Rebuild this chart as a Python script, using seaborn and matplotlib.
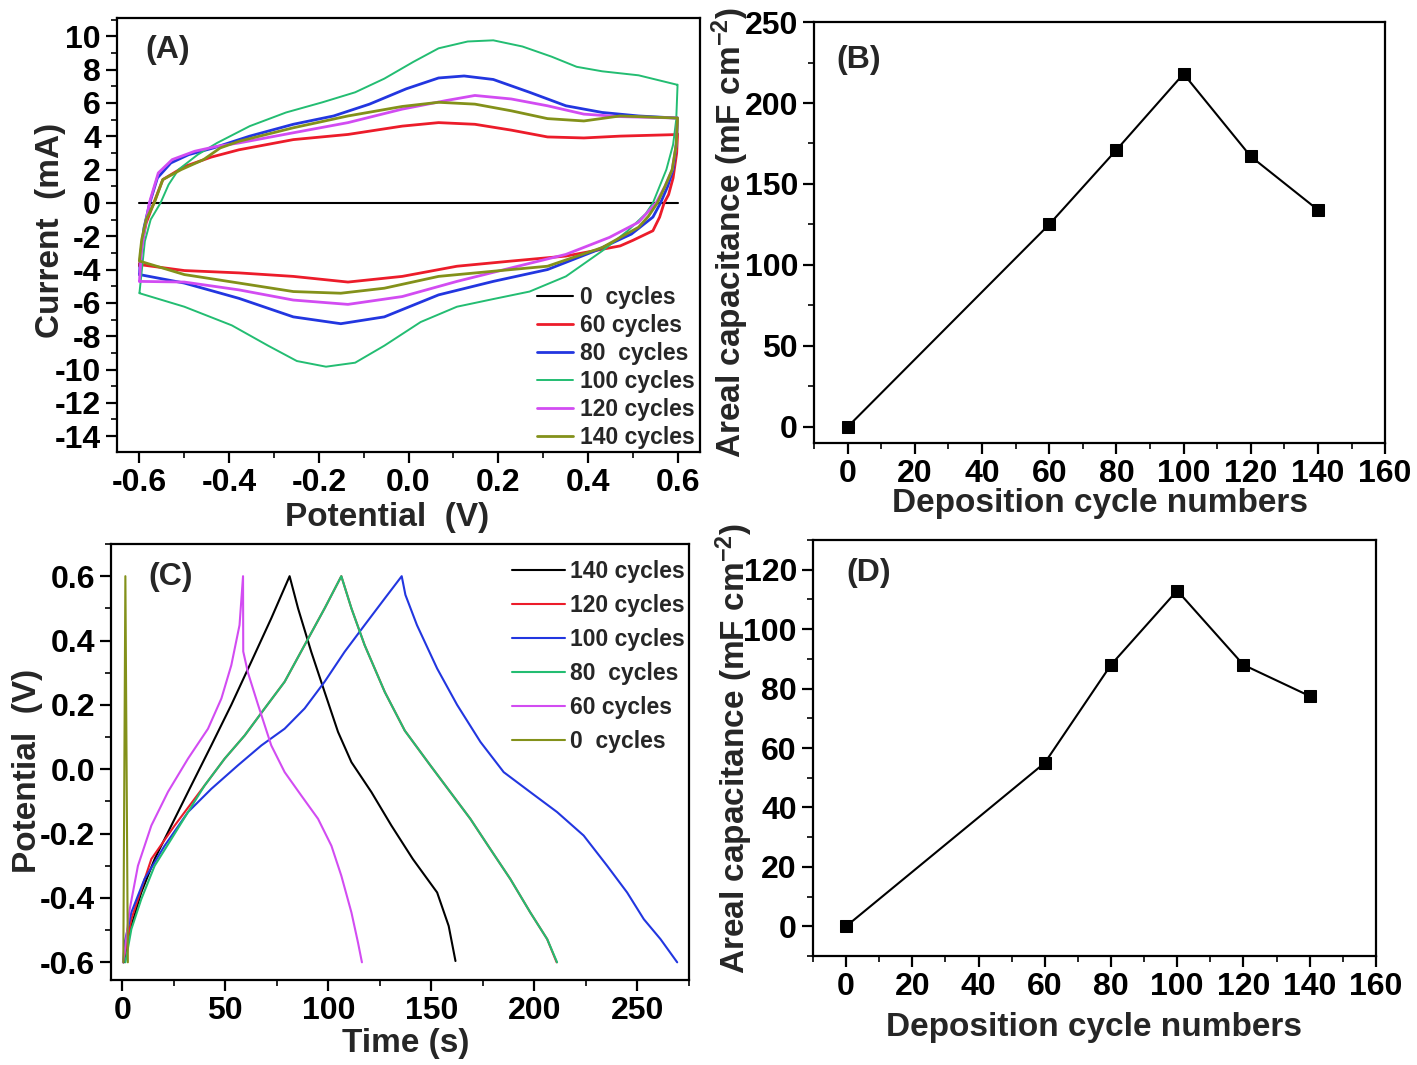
import matplotlib
matplotlib.use("Agg")
import matplotlib.pyplot as plt
from matplotlib import font_manager
from matplotlib.ticker import MultipleLocator
import seaborn as sns

# ---- (A) cyclic voltammetry: anodic branch -0.6 -> 0.6, then cathodic branch back
cv0_v = [-0.6, 0.6]
cv0_i = [0.0, 0.0]

cv60_v = [-0.6, -0.595, -0.585, -0.568, -0.548, -0.5, -0.44, -0.378, -0.257, -0.135, -0.014, 0.067, 0.148,
          0.229, 0.31, 0.391, 0.472, 0.594, 0.6,
          0.598, 0.59, 0.58, 0.57, 0.56, 0.545, 0.5, 0.472, 0.351, 0.229, 0.108, -0.014, -0.135, -0.257,
          -0.378, -0.5, -0.6]
cv60_i = [-3.8, -2.5, -1.2, 0.0, 1.4, 2.18, 2.75, 3.19, 3.80, 4.11, 4.61, 4.82, 4.72, 4.37, 3.96, 3.90,
          4.01, 4.1, 4.15,
          3.0, 1.5, 0.5, 0.0, -0.85, -1.67, -2.25, -2.58, -3.19, -3.49, -3.80, -4.41, -4.75, -4.41, -4.20,
          -4.06, -3.70]

cv80_v = [-0.6, -0.597, -0.59, -0.577, -0.56, -0.53, -0.49, -0.435, -0.354, -0.257, -0.167, -0.087,
          -0.005, 0.067, 0.124, 0.189, 0.27, 0.351, 0.432, 0.513, 0.594, 0.6,
          0.597, 0.59, 0.578, 0.562, 0.545, 0.497, 0.416, 0.31, 0.189, 0.067, -0.054, -0.151, -0.257,
          -0.378, -0.5, -0.6]
cv80_i = [-4.3, -3.0, -1.5, 0.0, 1.5, 2.4, 2.9, 3.3, 4.01, 4.72, 5.22, 5.93, 6.85, 7.50, 7.62, 7.41,
          6.64, 5.83, 5.43, 5.22, 5.1, 5.1,
          3.5, 2.0, 1.0, 0.0, -0.85, -1.87, -2.88, -4.0, -4.71, -5.52, -6.84, -7.25, -6.84, -5.73,
          -4.81, -4.30]

cv100_v = [-0.6, -0.588, -0.575, -0.553, -0.535, -0.513, -0.47, -0.427, -0.354, -0.273, -0.192, -0.119,
           -0.054, 0.011, 0.067, 0.132, 0.189, 0.254, 0.319, 0.375, 0.432, 0.513, 0.598, 0.6,
           0.597, 0.59, 0.575, 0.56, 0.545, 0.529, 0.489, 0.432, 0.351, 0.27, 0.189, 0.108, 0.027,
           -0.054, -0.119, -0.184, -0.249, -0.313, -0.394, -0.5, -0.6]
cv100_i = [-5.4, -2.3, -1.0, 0.0, 1.1, 2.0, 2.9, 3.6, 4.61, 5.43, 6.04, 6.64, 7.46, 8.47, 9.28, 9.69,
           9.76, 9.39, 8.78, 8.17, 7.90, 7.66, 7.1, 7.1,
           5.0, 3.5, 2.0, 1.0, 0.0, -0.65, -1.67, -2.88, -4.41, -5.32, -5.77, -6.23, -7.15, -8.57,
           -9.59, -9.83, -9.49, -8.57, -7.35, -6.23, -5.42]

cv120_v = [-0.6, -0.596, -0.588, -0.578, -0.558, -0.527, -0.477, -0.427, -0.378, -0.257, -0.135, -0.014,
           0.083, 0.148, 0.229, 0.31, 0.391, 0.472, 0.594, 0.6,
           0.597, 0.588, 0.572, 0.552, 0.513, 0.448, 0.351, 0.229, 0.108, -0.014, -0.135, -0.257,
           -0.378, -0.5, -0.6]
cv120_i = [-4.7, -3.0, -1.5, 0.0, 1.8, 2.6, 3.1, 3.4, 3.6, 4.21, 4.82, 5.63, 6.14, 6.45, 6.24, 5.83,
           5.33, 5.18, 5.1, 5.1,
           3.5, 2.0, 1.0, 0.0, -1.16, -2.07, -3.09, -3.90, -4.71, -5.62, -6.09, -5.83, -5.22, -4.75,
           -4.71]

cv140_v = [-0.6, -0.595, -0.585, -0.567, -0.548, -0.507, -0.457, -0.42, -0.378, -0.257, -0.135, -0.014,
           0.067, 0.148, 0.229, 0.31, 0.391, 0.472, 0.594, 0.6,
           0.597, 0.588, 0.572, 0.555, 0.535, 0.513, 0.432, 0.31, 0.189, 0.067, -0.054, -0.151, -0.257,
           -0.378, -0.5, -0.6]
cv140_i = [-3.4, -2.2, -1.0, 0.0, 1.4, 2.0, 2.6, 3.3, 3.7, 4.51, 5.22, 5.79, 6.04, 5.93, 5.53, 5.06,
           4.92, 5.22, 5.1, 5.1,
           3.5, 2.0, 1.0, 0.0, -0.8, -1.46, -2.68, -3.80, -4.10, -4.41, -5.12, -5.42, -5.32, -4.81,
           -4.30, -3.49]

# ---- (B) and (D) areal capacitance vs deposition cycles
cycles = [0, 60, 80, 100, 120, 140]
cap_b = [0, 125, 171, 218, 167, 134]
cap_d = [0, 55, 88, 113, 88, 77.5]

# ---- (C) galvanostatic charge/discharge
gcd0_t = [0.5, 1.5, 2.7]
gcd0_v = [-0.6, 0.6, -0.6]

gcd60_t = [0.3, 1.1, 3.6, 7.6, 14.1, 22.2, 31.9, 41.6, 48.1, 52.9, 56.9, 58.6,
           58.7, 61.0, 65.9, 72.3, 78.8, 86.9, 95.0, 101.5, 106.3, 111.2, 114.4, 116.3]
gcd60_v = [-0.6, -0.57, -0.435, -0.30, -0.175, -0.07, 0.033, 0.126, 0.22, 0.323, 0.448, 0.6,
           0.366, 0.30, 0.20, 0.074, -0.009, -0.082, -0.154, -0.238, -0.331, -0.445, -0.539, -0.6]

gcd80_t = [1.5, 4.4, 9.2, 15.7, 23.8, 31.9, 40.0, 49.7, 59.4, 69.1, 78.8, 88.5, 98.2, 106.3,
           111.2, 117.6, 127.4, 137.1, 149.5, 159.2, 168.9, 178.6, 188.3, 198.0, 206.2, 211.0]
gcd80_v = [-0.6, -0.497, -0.404, -0.30, -0.217, -0.133, -0.05, 0.033, 0.105, 0.189, 0.272, 0.386, 0.5, 0.6,
           0.5, 0.386, 0.24, 0.12, 0.012, -0.071, -0.154, -0.248, -0.341, -0.445, -0.528, -0.6]

gcd100_t = [0.5, 1.1, 4.4, 10.8, 20.5, 31.9, 43.2, 56.1, 67.5, 78.8, 88.5, 98.2, 107.9, 117.6, 127.4, 135.6,
            137.4, 143.0, 152.8, 162.5, 173.8, 185.1, 198.0, 211.0, 223.9, 235.3, 245.0, 253.1, 261.2, 269.3]
gcd100_v = [-0.6, -0.54, -0.445, -0.341, -0.238, -0.133, -0.061, 0.012, 0.074, 0.126, 0.189, 0.272, 0.365,
            0.448, 0.531, 0.6,
            0.542, 0.448, 0.313, 0.2, 0.085, -0.009, -0.071, -0.133, -0.206, -0.30, -0.383, -0.466, -0.528,
            -0.6]

gcd120_t = [0.5, 4.4, 14.1, 25.4, 35.1, 40.0, 49.7, 59.4, 69.1, 78.8, 88.5, 98.2, 106.3,
            111.2, 117.6, 127.4, 137.1, 149.5, 159.2, 168.9, 178.6, 188.3, 198.0, 206.2, 210.8]
gcd120_v = [-0.6, -0.466, -0.279, -0.175, -0.092, -0.05, 0.033, 0.105, 0.189, 0.272, 0.386, 0.5, 0.6,
            0.5, 0.386, 0.24, 0.12, 0.012, -0.071, -0.154, -0.248, -0.341, -0.445, -0.528, -0.6]

gcd140_t = [0.8, 1.9, 4.4, 9.2, 15.7, 23.8, 33.5, 43.2, 52.9, 62.6, 72.3, 81.2,
            85.3, 91.7, 98.2, 104.7, 111.2, 120.9, 130.6, 141.0, 152.8, 158.4, 161.7]
gcd140_v = [-0.6, -0.56, -0.487, -0.383, -0.279, -0.175, -0.05, 0.074, 0.2, 0.334, 0.469, 0.6,
            0.5, 0.365, 0.24, 0.116, 0.022, -0.071, -0.175, -0.279, -0.383, -0.487, -0.596]

RED = "#ec1c2a"
BLUE = "#2236e0"
GREEN = "#23bd72"
MAGENTA = "#d24cf2"
OLIVE = "#83911a"

sns.set_theme(style="ticks")
avail = {f.name for f in font_manager.fontManager.ttflist}
family = "Liberation Sans" if "Liberation Sans" in avail else "DejaVu Sans"
plt.rcParams.update({
    "font.family": [family, "DejaVu Sans"],
    "font.weight": "bold",
    "axes.labelweight": "bold",
    "axes.unicode_minus": False,
    "mathtext.fontset": "custom",
    "mathtext.rm": family + ":bold",
    "mathtext.bf": family + ":bold",
    "mathtext.default": "bf",
    "axes.linewidth": 1.6,
    "axes.edgecolor": "black",
})

fig = plt.figure(figsize=(14.17, 10.65), dpi=100)
ax_a = fig.add_axes([0.0826, 0.5756, 0.4114, 0.4075])
ax_b = fig.add_axes([0.5745, 0.5840, 0.4030, 0.3953])
ax_c = fig.add_axes([0.0783, 0.0798, 0.4079, 0.4094])
ax_d = fig.add_axes([0.5737, 0.1023, 0.3973, 0.3906])


def style_axes(ax, xmaj, xmin, ymaj, ymin):
    ax.xaxis.set_major_locator(MultipleLocator(xmaj))
    ax.xaxis.set_minor_locator(MultipleLocator(xmin))
    ax.yaxis.set_major_locator(MultipleLocator(ymaj))
    ax.yaxis.set_minor_locator(MultipleLocator(ymin))
    ax.tick_params(which="major", direction="out", length=8, width=1.6, labelsize=23, colors="black")
    ax.tick_params(which="minor", direction="out", length=4.5, width=1.4)
    ax.tick_params(top=False, right=False, which="both")
    for lab in ax.get_xticklabels() + ax.get_yticklabels():
        lab.set_fontweight("bold")
    for sp in ax.spines.values():
        sp.set_visible(True)
        sp.set_linewidth(1.6)


# (A)
cv_sets = [
    (cv0_v, cv0_i, "black", "0  cycles", 1.5),
    (cv60_v, cv60_i, RED, "60 cycles", 2.0),
    (cv80_v, cv80_i, BLUE, "80  cycles", 2.0),
    (cv100_v, cv100_i, GREEN, "100 cycles", 1.4),
    (cv120_v, cv120_i, MAGENTA, "120 cycles", 2.0),
    (cv140_v, cv140_i, OLIVE, "140 cycles", 2.0),
]
for xv, yv, col, lab, lw in cv_sets:
    sns.lineplot(x=xv, y=yv, sort=False, color=col, lw=lw, label=lab, ax=ax_a, estimator=None)
ax_a.set_xlim(-0.65, 0.65)
ax_a.set_ylim(-14.95, 11.1)
style_axes(ax_a, 0.2, 0.1, 2, 1)
ax_a.set_xlabel("Potential  (V)", fontsize=24)
ax_a.set_ylabel("Current  (mA)", fontsize=24)
ax_a.xaxis.set_label_coords(0.463, -0.115)
ax_a.yaxis.set_label_coords(-0.087, 0.51)
ax_a.legend(loc="lower right", bbox_to_anchor=(1.015, -0.025), frameon=False,
            handlelength=1.6, handletextpad=0.3, labelspacing=0.22, borderaxespad=0.2,
            prop={"weight": "bold", "size": 16.5})
ax_a.text(0.048, 0.926, "(A)", transform=ax_a.transAxes, fontsize=23, fontweight="bold", va="center")

# (B)
sns.lineplot(x=cycles, y=cap_b, color="black", lw=1.5, marker="s", markersize=9,
             markeredgecolor="black", ax=ax_b)
ax_b.set_xlim(-10, 160)
ax_b.set_ylim(-10, 250)
style_axes(ax_b, 20, 10, 50, 25)
ax_b.set_xlabel("Deposition cycle numbers", fontsize=24)
ax_b.set_ylabel("Areal capacitance (mF cm$^{-2}$)", fontsize=24)
ax_b.xaxis.set_label_coords(0.5, -0.107)
ax_b.yaxis.set_label_coords(-0.11, 0.5)
ax_b.text(0.0385, 0.91, "(B)", transform=ax_b.transAxes, fontsize=23, fontweight="bold", va="center")

# (C)
gcd_sets = [
    (gcd140_t, gcd140_v, "black", "140 cycles"),
    (gcd120_t, gcd120_v, RED, "120 cycles"),
    (gcd100_t, gcd100_v, BLUE, "100 cycles"),
    (gcd80_t, gcd80_v, GREEN, "80  cycles"),
    (gcd60_t, gcd60_v, MAGENTA, "60 cycles"),
    (gcd0_t, gcd0_v, OLIVE, "0  cycles"),
]
for xv, yv, col, lab in gcd_sets:
    sns.lineplot(x=xv, y=yv, sort=False, color=col, lw=1.5, label=lab, ax=ax_c, estimator=None)
ax_c.set_xlim(-5.5, 275)
ax_c.set_ylim(-0.655, 0.70)
style_axes(ax_c, 50, 25, 0.2, 0.1)
ax_c.set_xlabel("Time (s)", fontsize=24)
ax_c.set_ylabel("Potential  (V)", fontsize=24)
ax_c.xaxis.set_label_coords(0.51, -0.11)
ax_c.yaxis.set_label_coords(-0.118, 0.48)
ax_c.legend(loc="upper right", bbox_to_anchor=(1.02, 1.0), frameon=False,
            handlelength=2.3, handletextpad=0.2, labelspacing=0.48, borderaxespad=0.3,
            prop={"weight": "bold", "size": 16.5})
ax_c.text(0.064, 0.924, "(C)", transform=ax_c.transAxes, fontsize=23, fontweight="bold", va="center")

# (D)
sns.lineplot(x=cycles, y=cap_d, color="black", lw=1.5, marker="s", markersize=9,
             markeredgecolor="black", ax=ax_d)
ax_d.set_xlim(-10, 160)
ax_d.set_ylim(-10, 130)
style_axes(ax_d, 20, 10, 20, 10)
ax_d.set_xlabel("Deposition cycle numbers", fontsize=24)
ax_d.set_ylabel("Areal capacitance (mF cm$^{-2}$)", fontsize=24)
ax_d.xaxis.set_label_coords(0.5, -0.135)
ax_d.yaxis.set_label_coords(-0.103, 0.5)
ax_d.text(0.059, 0.92, "(D)", transform=ax_d.transAxes, fontsize=23, fontweight="bold", va="center")

fig.savefig("out.png", dpi=100, facecolor="white")
